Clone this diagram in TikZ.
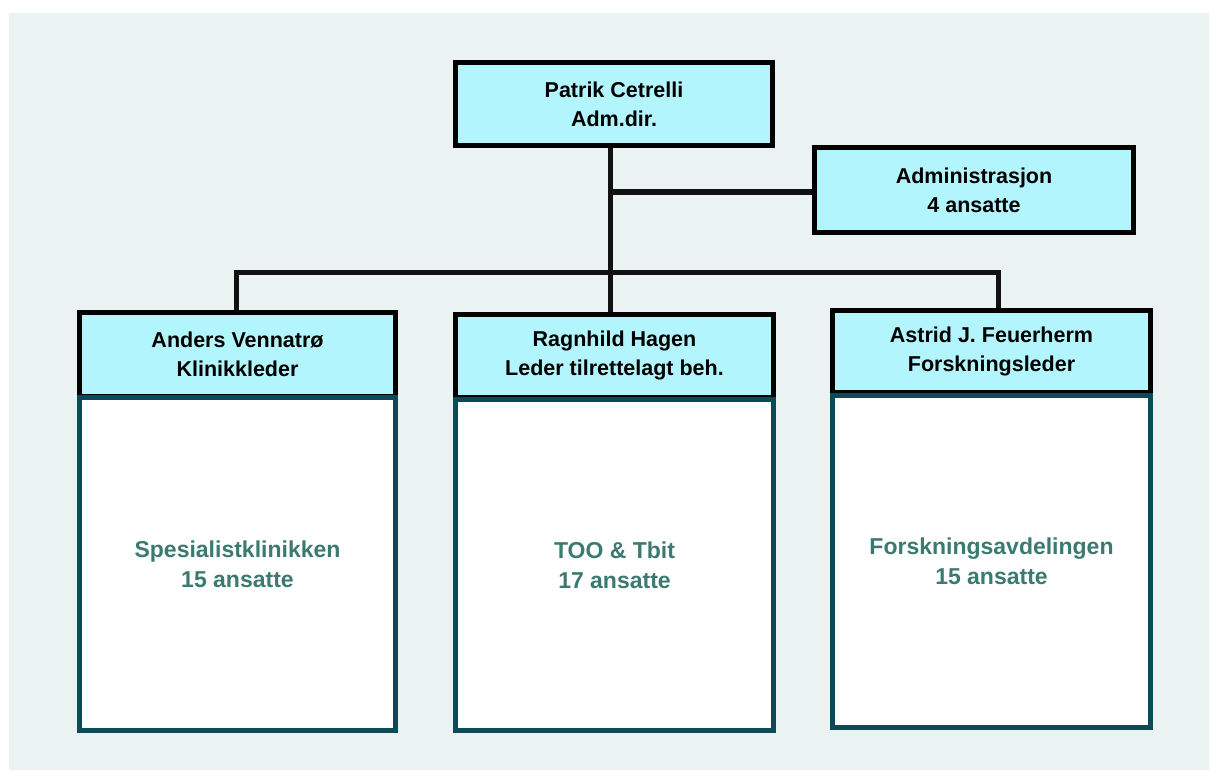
\documentclass[tikz,border=0pt]{standalone}
\usepackage{fontspec}
\setmainfont{Liberation Sans}
\definecolor{bgc}{HTML}{EAF3F1}
\definecolor{headfill}{HTML}{B3F5FD}
\definecolor{bodyline}{HTML}{0B4B55}
\definecolor{bodytext}{HTML}{3B7A71}
\definecolor{darkline}{HTML}{111111}
\tikzset{
  headbox/.style={draw=black, fill=headfill, line width=5pt, rectangle, inner sep=0pt,
    align=center, font=\fontsize{21.5}{29}\selectfont\bfseries, text=black},
  bodybox/.style={draw=bodyline, fill=white, line width=5pt, rectangle, inner sep=0pt,
    align=center, font=\fontsize{23}{30}\selectfont\bfseries, text=bodytext},
  conn/.style={draw=darkline, line width=5pt}
}
\begin{document}
\begin{tikzpicture}[x=1pt,y=1pt]
\useasboundingbox (0,0) rectangle (1209,-770);
\fill[bgc] (9,-13) rectangle (1209,-770);

% connector coordinates
\coordinate (j1) at (610,-192);
\coordinate (bl) at (236,-272);
\coordinate (bm) at (610,-272);
\coordinate (br) at (998,-272);

% top
\node[headbox, minimum width=317pt, minimum height=83pt] (top) at (614,-104) {Patrik Cetrelli\\Adm.dir.};
\node[headbox, minimum width=319pt, minimum height=85pt] (admin) at (974,-190) {Administrasjon\\4 ansatte};

% columns
\node[headbox, minimum width=316pt, minimum height=84pt] (lefth) at (237.5,-354) {Anders Vennatrø\\Klinikkleder};
\node[bodybox, minimum width=316pt, minimum height=333pt] (leftb) at (237.5,-564) {Spesialistklinikken\\15 ansatte};

\node[headbox, minimum width=318pt, minimum height=83pt] (midh) at (614.5,-355.5) {Ragnhild Hagen\\Leder tilrettelagt beh.};
\node[bodybox, minimum width=318pt, minimum height=331pt] (midb) at (614.5,-565) {TOO \& Tbit\\17 ansatte};

\node[headbox, minimum width=318pt, minimum height=82pt] (righth) at (991.5,-351.5) {Astrid J. Feuerherm\\Forskningsleder};
\node[bodybox, minimum width=318pt, minimum height=332pt] (rightb) at (991.5,-561.5) {Forskningsavdelingen\\15 ansatte};

% connectors
\draw[conn] (top.south -| j1) -- (midh.north -| j1);
\draw[conn] (j1) -- (admin.west |- j1);
\draw[conn] (lefth.north -| bl) -- (bl) -- (br) -- (righth.north -| br);
\end{tikzpicture}
\end{document}
